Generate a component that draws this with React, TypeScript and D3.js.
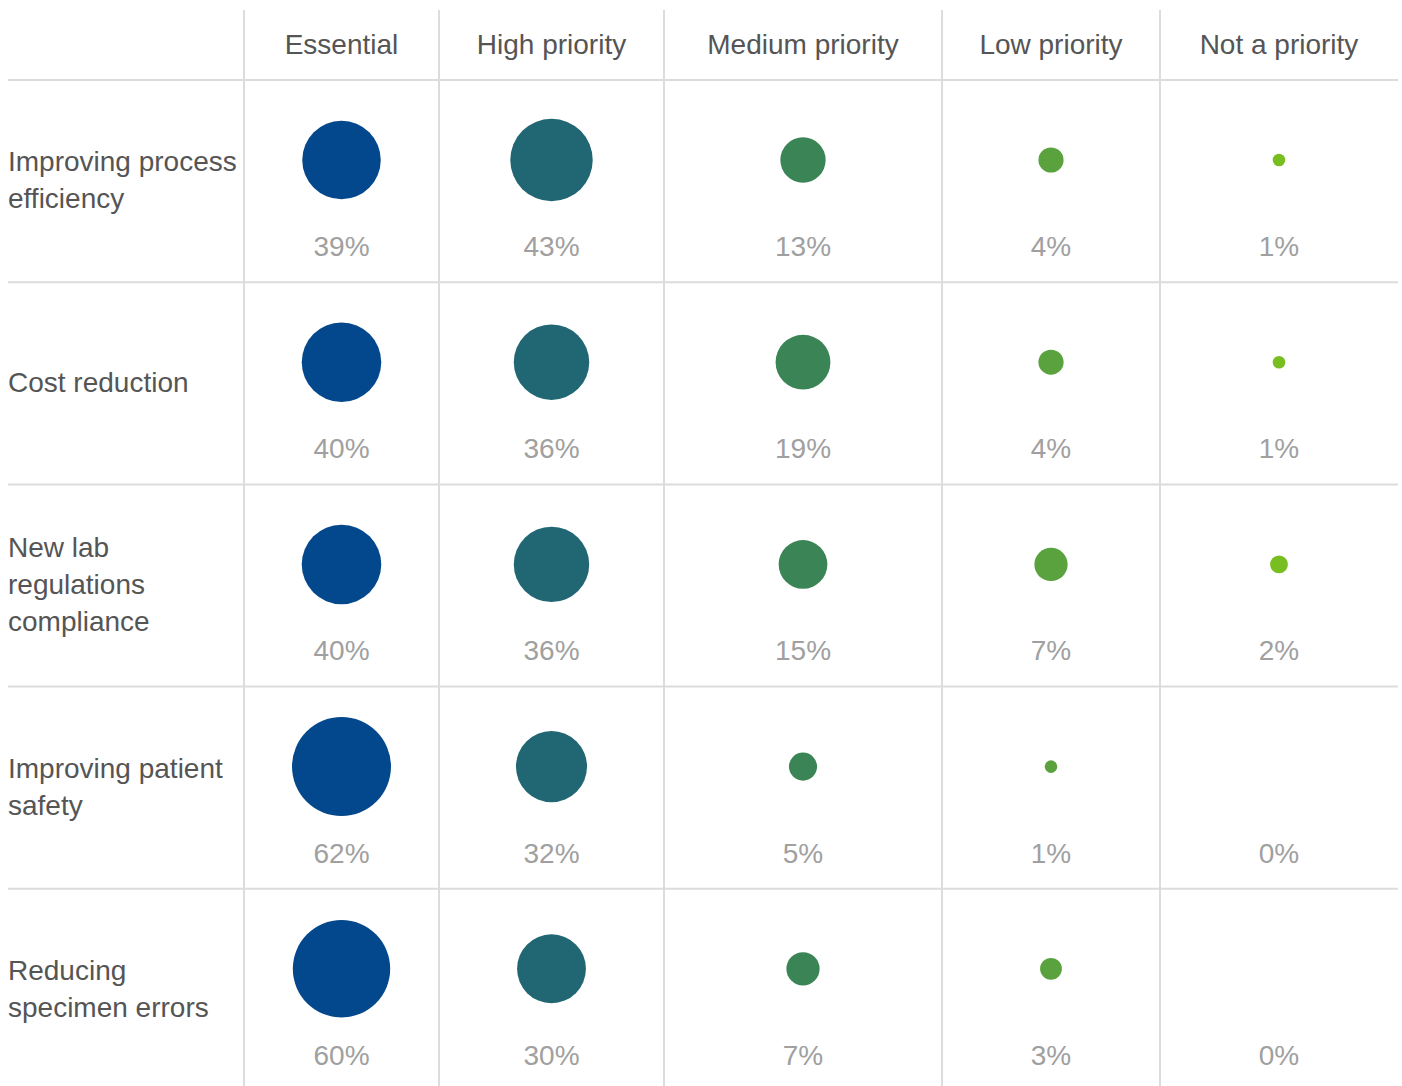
import React from "react";
import * as d3 from "d3";

const priorities = ["Essential", "High priority", "Medium priority", "Low priority", "Not a priority"];
const reasons = [
  "Improving process efficiency",
  "Cost reduction",
  "New lab regulations compliance",
  "Improving patient safety",
  "Reducing specimen errors",
];
// row label line breaks as they appear in the picture
const reasonLines = [
  ["Improving process", "efficiency"],
  ["Cost reduction"],
  ["New lab", "regulations", "compliance"],
  ["Improving patient", "safety"],
  ["Reducing", "specimen errors"],
];
const essential = [39, 40, 40, 62, 60];
const highPriority = [43, 36, 36, 32, 30];
const mediumPriority = [13, 19, 15, 5, 7];
const lowPriority = [4, 4, 7, 1, 3];
const notPriority = [1, 1, 2, 0, 0];
const seriesValues = [essential, highPriority, mediumPriority, lowPriority, notPriority];
const colors = ["#03488c", "#206673", "#3a8455", "#5aa23e", "#78be20"];

const W = 1402;
const H = 1086;
// column edges of the table (layout)
const colEdges = [8, 244, 439, 664, 942, 1160, 1398];
const headerTop = 10;
const headerBottom = 80;
const rowStep = 202.2;
const FONT = "'Liberation Sans', Arial, Helvetica, sans-serif";

export default function App() {
  const yScale = d3
    .scaleBand<string>()
    .domain(reasons)
    .range([headerBottom, headerBottom + rowStep * reasons.length]);

  const colCenter = d3
    .scaleOrdinal<string, number>()
    .domain(priorities)
    .range(priorities.map((_, i) => (colEdges[i + 1] + colEdges[i + 2]) / 2));

  const rScale = d3.scaleSqrt().domain([0, 62]).range([0, 49.5]);

  return (
    <svg
      width={W}
      height={H}
      style={{ position: "absolute", left: 0, top: 0, fontFamily: FONT }}
    >
      <rect width={W} height={H} fill="#fff" />
      {/* vertical grid */}
      {colEdges.slice(1, -1).map((x, i) => (
        <line key={"v" + i} x1={x} x2={x} y1={headerTop} y2={H} stroke="#dcdcdc" strokeWidth={2} />
      ))}
      {/* horizontal grid */}
      {reasons.map((r) => (
        <line
          key={"h" + r}
          x1={colEdges[0]}
          x2={colEdges[colEdges.length - 1]}
          y1={yScale(r)}
          y2={yScale(r)}
          stroke="#dcdcdc"
          strokeWidth={2}
        />
      ))}
      {/* headers */}
      {priorities.map((p) => (
        <text key={p} x={colCenter(p)} y={54} textAnchor="middle" fontSize={28} fill="#555">
          {p}
        </text>
      ))}
      {/* rows */}
      {reasons.map((r, ri) => {
        const top = yScale(r) as number;
        const mid = top + yScale.bandwidth() / 2;
        const lines = reasonLines[ri];
        return (
          <g key={r}>
            {lines.map((t, li) => (
              <text
                key={li}
                x={8}
                y={mid - 1 + (li - (lines.length - 1) / 2) * 37}
                dy="0.35em"
                fontSize={28}
                fill="#555"
              >
                {t}
              </text>
            ))}
            {priorities.map((p, pi) => {
              const v = seriesValues[pi][ri];
              return (
                <g key={p}>
                  {v > 0 && (
                    <circle cx={colCenter(p)} cy={top + 80} r={rScale(v)} fill={colors[pi]} />
                  )}
                  <text
                    x={colCenter(p)}
                    y={top + 176}
                    textAnchor="middle"
                    fontSize={28}
                    fill="#a0a0a0"
                  >
                    {v}%
                  </text>
                </g>
              );
            })}
          </g>
        );
      })}
    </svg>
  );
}
